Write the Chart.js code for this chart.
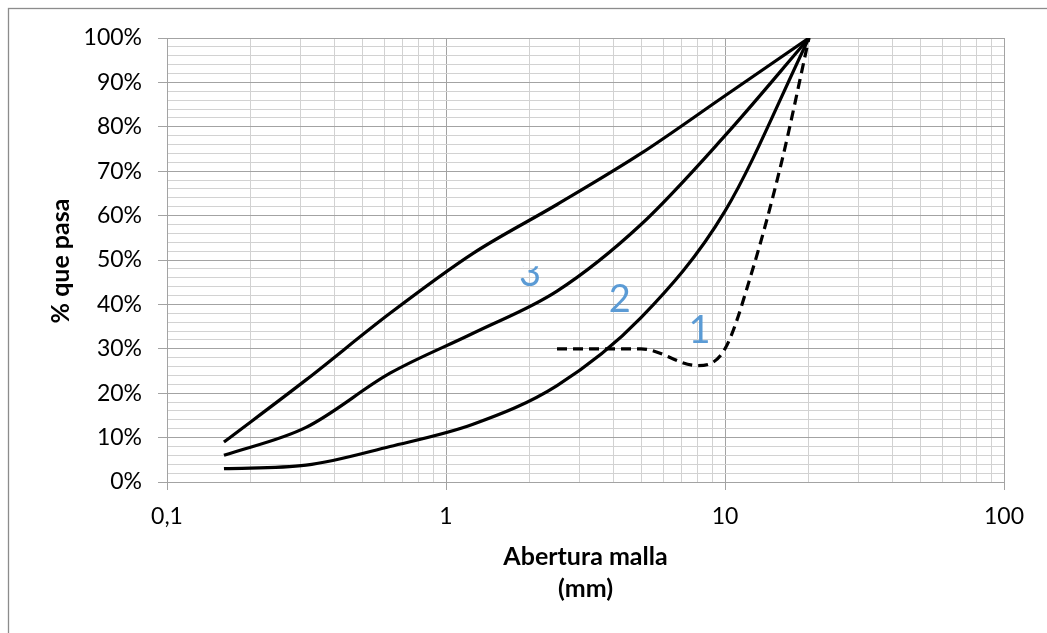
<!DOCTYPE html>
<html><head><meta charset="utf-8">
<script src="https://cdn.jsdelivr.net/npm/chart.js@4.4.0/dist/chart.umd.min.js"></script>
<style>html,body{margin:0;padding:0;background:#fff;}canvas{display:block;}</style>
</head><body>
<canvas id="c" width="1047" height="633"></canvas>
<script>
// ---- data ----
const sieveSizes   = [0.16, 0.315, 0.63, 1.25, 2.5, 5, 10, 20];   // mm
const upperCurve   = [9, 23, 38, 51.5, 62.5, 74, 87, 100];        // % que pasa
const middleCurve  = [6, 12.3, 24.5, 33.5, 43, 58, 78, 100];
const lowerCurve   = [3, 3.8, 8, 13, 21.7, 37, 61, 100];
const dashedSizes  = [2.5, 5, 8, 10, 12.5, 16, 20];
const dashedCurve  = [30, 30, 26.2, 30, 47.4, 72.4, 100];
const zoneLabels   = ['3', '2', '1'];
const zoneLabelX   = [2.0, 4.2, 8.1];     // mm
const zoneLabelY   = [44.1, 38.3, 31.3];  // % (baseline)
const xTickValues  = [0.1, 1, 10, 100];
const xTickLabels  = ['0,1', '1', '10', '100'];
const xTitle       = ['Abertura malla', '(mm)'];
const yTitle       = '% que pasa';

// minor log grid 1..9 per decade
const xGridValues = [];
[0.1, 1, 10].forEach(d => { for (let k = 1; k <= 9; k++) xGridValues.push(+(d * k).toPrecision(3)); });
xGridValues.push(100);

const isMajorX = v => xTickValues.some(t => Math.abs(t - v) / t < 1e-6);
const MAJOR = '#a3a3a3', MINOR = '#d2d2d2';
const FONT = 'Lato, "Open Sans", "Liberation Sans", sans-serif';

const pts = (xs, ys) => xs.map((x, i) => ({x, y: ys[i]}));
const lineStyle = {borderColor: '#000', borderWidth: 3.2, pointRadius: 0, fill: false, cubicInterpolationMode: 'monotone'};

const framePlugin = {
  id: 'frame',
  beforeDraw(chart) {
    const c = chart.ctx;
    c.save();
    c.fillStyle = '#fff';
    c.fillRect(0, 0, chart.width, chart.height);
    c.strokeStyle = '#8c8c8c';
    c.lineWidth = 1.3;
    c.strokeRect(8.5, 8.5, chart.width + 20, chart.height + 20);
    c.restore();
  }
};

const textPlugin = {
  id: 'texts',
  afterDatasetsDraw(chart) {
    const c = chart.ctx, xs = chart.scales.x, ys = chart.scales.y, a = chart.chartArea;
    c.save();
    // zone labels
    c.font = '38px ' + FONT;
    c.fillStyle = '#5b9bd5';
    c.textAlign = 'center';
    c.textBaseline = 'alphabetic';
    zoneLabels.forEach((t, i) => {
      c.save();
      if (i === 0) { // partially hidden label
        const top = ys.getPixelForValue(48.6);
        c.beginPath(); c.rect(0, top, chart.width, chart.height); c.clip();
      }
      c.fillText(t, xs.getPixelForValue(zoneLabelX[i]), ys.getPixelForValue(zoneLabelY[i]));
      c.restore();
    });
    // axis titles
    c.fillStyle = '#000';
    c.font = 'bold 25px ' + FONT;
    c.textBaseline = 'middle';
    const cx = (a.left + a.right) / 2;
    c.fillText(xTitle[0], cx, 557);
    c.fillText(xTitle[1], cx, 589);
    c.translate(61, (a.top + a.bottom) / 2 + 1);
    c.rotate(-Math.PI / 2);
    c.fillText(yTitle, 0, 0);
    c.restore();
  }
};

new Chart(document.getElementById('c'), {
  type: 'line',
  data: {
    datasets: [
      {...lineStyle, data: pts(sieveSizes, upperCurve)},
      {...lineStyle, data: pts(sieveSizes, middleCurve)},
      {...lineStyle, data: pts(sieveSizes, lowerCurve)},
      {...lineStyle, data: pts(dashedSizes, dashedCurve), borderDash: [10, 6]}
    ]
  },
  options: {
    responsive: false,
    animation: false,
    events: [],
    layout: {padding: {top: 38, right: 43, left: 0, bottom: 0}},
    plugins: {legend: {display: false}, tooltip: {enabled: false}},
    scales: {
      x: {
        type: 'logarithmic', min: 0.1, max: 100,
        afterBuildTicks: s => { s.ticks = xGridValues.map(v => ({value: v, major: isMajorX(v)})); },
        afterFit: s => { s.height = 151; },
        ticks: {
          autoSkip: false, maxRotation: 0, minRotation: 0, padding: 13, color: '#000',
          font: {family: FONT, size: 23},
          callback: v => { const i = xTickValues.findIndex(t => Math.abs(t - v) / t < 1e-6); return i >= 0 ? xTickLabels[i] : ''; }
        },
        grid: {
          color: ctx => isMajorX(ctx.tick.value) ? MAJOR : MINOR,
          tickColor: ctx => isMajorX(ctx.tick.value) ? MAJOR : 'rgba(0,0,0,0)',
          tickLength: 8, lineWidth: 1
        },
        border: {color: MAJOR, width: 1}
      },
      y: {
        min: 0, max: 100,
        afterFit: s => { s.width = 167; },
        ticks: {
          stepSize: 2, autoSkip: false, maxTicksLimit: 200, padding: 16, color: '#000',
          font: {family: FONT, size: 23},
          callback: v => (Math.round(v) % 10 === 0 ? Math.round(v) + '%' : '')
        },
        grid: {
          color: ctx => (Math.round(ctx.tick.value) % 10 === 0 ? MAJOR : MINOR),
          tickColor: ctx => (Math.round(ctx.tick.value) % 10 === 0 ? MAJOR : 'rgba(0,0,0,0)'),
          tickLength: 9, lineWidth: 1
        },
        border: {color: MAJOR, width: 1}
      }
    }
  },
  plugins: [framePlugin, textPlugin]
});
</script>
</body></html>
